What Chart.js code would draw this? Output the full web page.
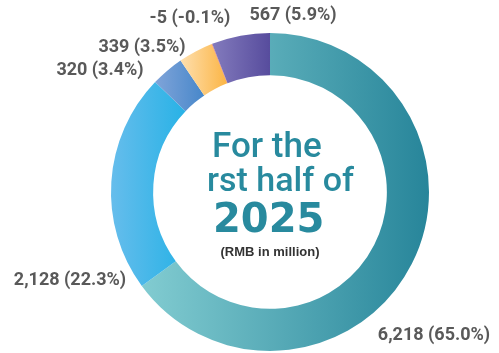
<!DOCTYPE html>
<html>
<head>
<meta charset="utf-8">
<script src="https://cdn.jsdelivr.net/npm/chart.js@4.4.1/dist/chart.umd.min.js"></script>
<style>
  html, body { margin: 0; padding: 0; background: #fff; }
  #wrap { width: 499px; height: 353px; }
</style>
</head>
<body>
<div id="wrap"><canvas id="profitChart"></canvas></div>
<script>
// profit contribution by business, first half of 2025 (RMB in million)
const segments = ["Business A", "Business B", "Business C", "Business D", "Business E", "Business F"];
const values = [6218, 2128, 320, 339, -5, 567];
const shares = ["65.0%", "22.3%", "3.4%", "3.5%", "-0.1%", "5.9%"];

// left / right colour of each slice's horizontal gradient
const colorFrom = ["#82ccd1", "#66bdec", "#80a4d9", "#fedfae", "#e8685a", "#837bbd"];
const colorTo   = ["#27859a", "#28b2e6", "#4787ca", "#fbb545", "#e8685a", "#574c9d"];

// where each value label sits, relative to the ring centre
const labelOffsets = [[164, 143], [-200, 88], [-170, -122], [-128, -145], [-80, -174], [23, -177]];

const TAU = Math.PI * 2;

function sliceGradient(context) {
  const chart = context.chart;
  const i = context.dataIndex;
  const area = chart.chartArea;
  const ctrl = chart.getDatasetMeta(0).controller;
  if (!area || !ctrl || !ctrl.outerRadius) return colorFrom[i];

  const cx = (area.left + area.right) / 2 + (ctrl.offsetX || 0);
  const total = values.reduce((s, v) => s + Math.abs(v), 0);
  let start = -Math.PI / 2;
  for (let k = 0; k < i; k++) start += TAU * Math.abs(values[k]) / total;
  const end = start + TAU * Math.abs(values[i]) / total;

  let minX = Infinity, maxX = -Infinity;
  for (let k = 0; k <= 60; k++) {
    const a = start + (end - start) * k / 60;
    for (const r of [ctrl.innerRadius, ctrl.outerRadius]) {
      const x = cx + r * Math.cos(a);
      minX = Math.min(minX, x);
      maxX = Math.max(maxX, x);
    }
  }
  if (maxX - minX < 1) return colorFrom[i];
  const g = chart.ctx.createLinearGradient(minX, 0, maxX, 0);
  g.addColorStop(0, colorFrom[i]);
  g.addColorStop(1, colorTo[i]);
  return g;
}

const ringText = {
  id: "ringText",
  afterDraw(chart) {
    const { ctx, chartArea } = chart;
    const cx = (chartArea.left + chartArea.right) / 2;
    const cy = (chartArea.top + chartArea.bottom) / 2;
    ctx.save();

    // value labels round the ring
    ctx.fillStyle = "#595959";
    ctx.font = "bold 18px Roboto";
    ctx.textAlign = "center";
    ctx.textBaseline = "middle";
    values.forEach((v, i) => {
      const [dx, dy] = labelOffsets[i];
      ctx.fillText(v.toLocaleString("en-US") + " (" + shares[i] + ")", cx + dx, cy + dy);
    });

    // title in the hole
    ctx.fillStyle = "#288a9e";
    ctx.textAlign = "left";
    ctx.textBaseline = "alphabetic";
    ctx.font = "500 35px Roboto";
    ctx.fillText("For the", cx - 58, cy - 35);
    ctx.font = "500 34px Roboto";
    ctx.fillText("rst half of", cx - 63, cy - 1);
    ctx.font = "bold 40px 'DejaVu Sans'";
    ctx.fillText("2025", cx - 57, cy + 40);

    ctx.fillStyle = "#333333";
    ctx.textAlign = "center";
    ctx.textBaseline = "middle";
    ctx.font = "bold 13px 'Liberation Sans'";
    ctx.fillText("(RMB in million)", cx, cy + 60);
    ctx.restore();
  }
};

new Chart(document.getElementById("profitChart"), {
  type: "doughnut",
  data: {
    labels: segments,
    datasets: [{
      data: values,
      backgroundColor: sliceGradient,
      borderWidth: 0
    }]
  },
  options: {
    responsive: true,
    maintainAspectRatio: false,
    animation: false,
    cutout: "73.5%",
    layout: { padding: { left: 111, right: 70, top: 33, bottom: 2 } },
    plugins: {
      legend: { display: false },
      tooltip: { enabled: false }
    }
  },
  plugins: [ringText]
});
</script>
</body>
</html>
